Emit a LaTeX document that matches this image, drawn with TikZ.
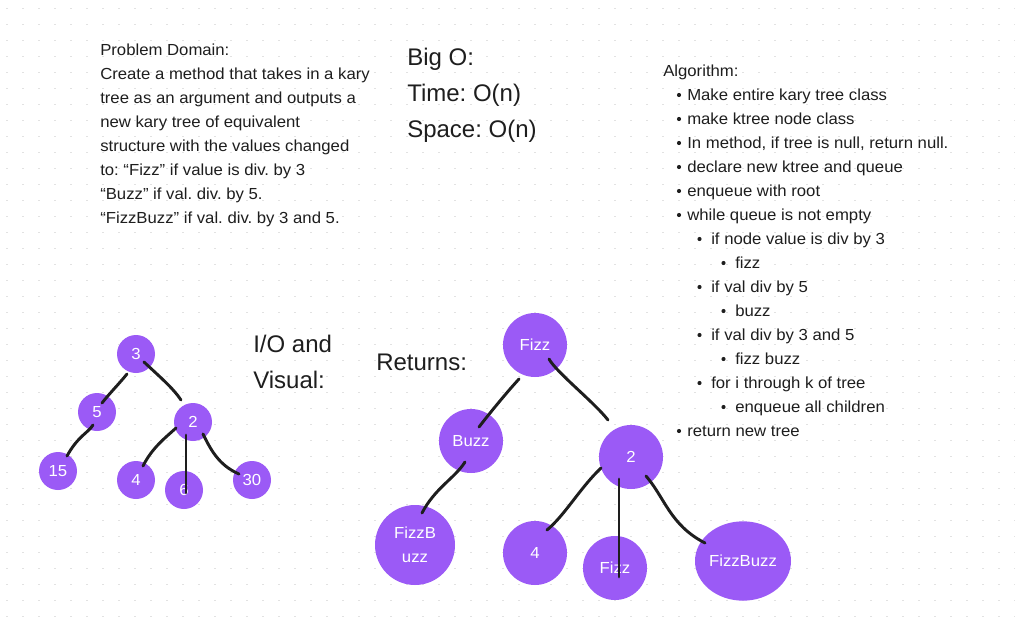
\documentclass[tikz,border=0pt]{standalone}
\usepackage{fontspec}
\setmainfont{Liberation Sans}[FakeStretch=1.045]
\newfontfamily\bigfont{Liberation Sans}
\usetikzlibrary{calc,shapes.geometric}
\definecolor{nodepurple}{HTML}{9B5AF6}
\definecolor{ink}{HTML}{1E1E1E}
\definecolor{griddot}{HTML}{E2E2E2}
\frenchspacing
\begin{document}
\begin{tikzpicture}[x=0.75pt,y=-0.75pt,
  txt/.style={anchor=base west, inner sep=0, text=ink, font=\fontsize{12}{18}\selectfont},
  bigtxt/.style={anchor=base west, inner sep=0, text=ink, font=\bigfont\fontsize{18}{27}\selectfont},
  tnode/.style={circle, fill=nodepurple, inner sep=0, text=white, align=center, font=\fontsize{12}{18}\selectfont},
  smallnode/.style={tnode, minimum size=28.5pt},
  midnode/.style={tnode, minimum size=48pt},
  edge/.style={draw=ink, line width=2.2pt, line cap=round, line join=round},
  bul/.style={fill=ink}]
\useasboundingbox (0,0) rectangle (1015,629);
\fill[white] (0,0) rectangle (1015,629);
% dot grid
\foreach \i in {0,...,63}{
  \foreach \j in {0,...,39}{
    \fill[griddot] ({7+16*\i-0.8},{8.5+16*\j-0.8}) rectangle ++(1.6,1.6);
  }
}
% Problem domain
\node[txt] (p1) at (100,55) {Problem Domain:};
\node[txt] (p2) at (100,79) {Create a method that takes in a kary};
\node[txt] (p3) at (100,103) {tree as an argument and outputs a};
\node[txt] (p4) at (100,127) {new kary tree of equivalent};
\node[txt] (p5) at (100,151) {structure with the values changed};
\node[txt] (p6) at (100,175) {to: “Fizz” if value is div. by 3};
\node[txt] (p7) at (100,199) {“Buzz” if val. div. by 5.};
\node[txt] (p8) at (100,223) {“FizzBuzz” if val. div. by 3 and 5.};
% Big O
\node[bigtxt] (b1) at (407,65) {Big O:};
\node[bigtxt] (b2) at (407,101) {Time: O(n)};
\node[bigtxt] (b3) at (407,137) {Space: O(n)};
% Algorithm
\node[txt] (alg) at (663,76) {Algorithm:};
\foreach \lvl/\t [count=\k from 0] in {
  1/{Make entire kary tree class},
  1/{make ktree node class},
  1/{In method, if tree is null, return null.},
  1/{declare new ktree and queue},
  1/{enqueue with root},
  1/{while queue is not empty},
  2/{if node value is div by 3},
  3/{fizz},
  2/{if val div by 5},
  3/{buzz},
  2/{if val div by 3 and 5},
  3/{fizz buzz},
  2/{for i through k of tree},
  3/{enqueue all children},
  1/{return new tree}}{
  \pgfmathsetmacro{\tx}{\lvl==1 ? 687 : (\lvl==2 ? 711 : 735)}
  \pgfmathsetmacro{\bx}{\lvl==1 ? 679 : (\lvl==2 ? 699.5 : 723.5)}
  \pgfmathsetmacro{\by}{100+24*\k}
  \fill[bul] (\bx,\by-5) circle (1.55pt);
  \node[txt] (a\k) at (\tx,\by) {\t};
}
% I/O and Returns labels
\node[bigtxt] (io1) at (253,352) {I/O and};
\node[bigtxt] (io2) at (253,388) {Visual:};
\node[bigtxt] (ret) at (376,370) {Returns:};
% Left tree
\node[smallnode] (L3) at (136,354) {3};
\node[smallnode] (L5) at (97,412) {5};
\node[smallnode] (L2) at (193,422) {2};
\node[smallnode] (L15) at (58,471) {15};
\node[smallnode] (L4) at (136,480) {4};
\node[smallnode] (L6) at (184,490) {6};
\node[smallnode] (L30) at (252,480) {30};
\draw[edge] ($(L3)+(-9,20)$) .. controls ($(L3)+(-18,31)$) and ($(L5)+(12,-18)$) .. ($(L5)+(5,-9)$);
\draw[edge] ($(L3)+(8,8)$) .. controls ($(L3)+(24,23)$) and ($(L2)+(-20,-34)$) .. ($(L2)+(-12,-22)$);
\draw[edge] ($(L5)+(-4,13)$) .. controls ($(L5)+(-9,21)$) and ($(L15)+(20,-35)$) .. ($(L15)+(9,-15)$);
\draw[edge] ($(L2)+(-17,6)$) .. controls ($(L2)+(-28,16)$) and ($(L4)+(16,-32)$) .. ($(L4)+(7,-14)$);
\draw[edge] ($(L2)+(-7,13)$) -- ($(L6)+(2,3)$);
\draw[edge] ($(L2)+(10,12)$) .. controls ($(L2)+(17,26)$) and ($(L30)+(-34,-15)$) .. ($(L30)+(-13,-6)$);
% Right tree
\node[midnode] (RF) at (535,345) {Fizz};
\node[midnode] (RB) at (471,441) {Buzz};
\node[midnode] (R2) at (631,457) {2};
\node[tnode, minimum size=60pt] (RFB) at (415,545) {FizzB\\uzz};
\node[midnode] (R4) at (535,553) {4};
\node[midnode] (RFz) at (615,568) {Fizz};
\node[ellipse, fill=nodepurple, inner sep=0, text=white, font=\fontsize{12}{18}\selectfont, minimum width=72pt, minimum height=59.5pt] (RFBe) at (743,561) {FizzBuzz};
\draw[edge] ($(RF)+(-16,34)$) .. controls ($(RF)+(-28,47)$) and ($(RB)+(18,-27)$) .. ($(RB)+(8,-14)$);
\draw[edge] ($(RF)+(14,14)$) .. controls ($(RF)+(22,28)$) and ($(R2)+(-37,-55)$) .. ($(R2)+(-23,-37)$);
\draw[edge] ($(RB)+(-6,21)$) .. controls ($(RB)+(-16,37)$) and ($(RFB)+(20,-57)$) .. ($(RFB)+(7,-32)$);
\draw[edge] ($(R2)+(-30,11)$) .. controls ($(R2)+(-51,31)$) and ($(R4)+(30,-38)$) .. ($(R4)+(12,-23)$);
\draw[edge] ($(R2)+(-12,22)$) -- ($(RFz)+(4,9)$);
\draw[edge] ($(R2)+(15,19)$) .. controls ($(R2)+(34,41)$) and ($(RFBe)+(-73,-36)$) .. ($(RFBe)+(-38,-18)$);
\end{tikzpicture}
\end{document}
